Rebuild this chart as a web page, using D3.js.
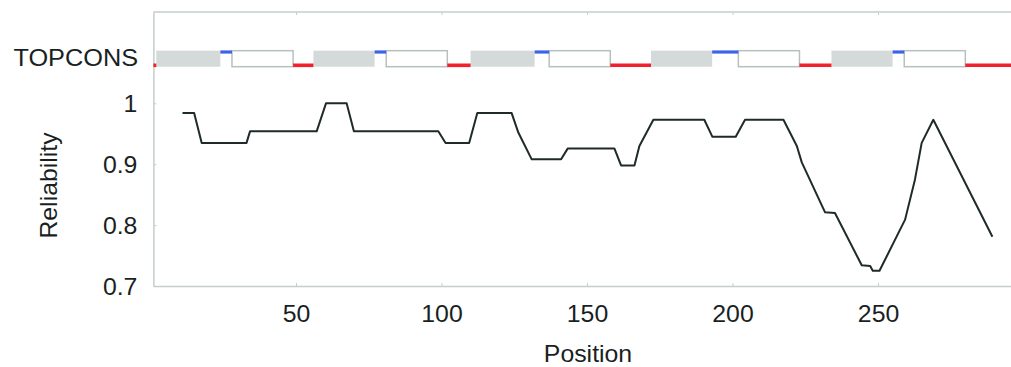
<!DOCTYPE html>
<html>
<head>
<meta charset="utf-8">
<script src="https://cdn.jsdelivr.net/npm/d3@7"></script>
<style>
  body { margin: 0; background: #fff; }
  text { font-family: "Liberation Sans", Arial, sans-serif; fill: #1a1f1f; }
</style>
</head>
<body>
<svg id="chart" width="1011" height="367"></svg>
<script>
// reliability curve (vertices)
const positions = [11, 15, 17.6, 33, 34.2, 57.1, 60.3, 67.4, 69.9, 98.9, 101.4, 109.5, 112.3,
    124.1, 126.4, 131, 141.1, 143.4, 159.4, 161.7, 166.3, 168, 172.8, 190.3, 193.1, 201.1, 204.3,
    217.5, 222.1, 223.8, 231.8, 235.2, 244.4, 247.3, 248.2, 250.5, 259.3, 262.7, 265, 269, 289.3];
const reliability = [0.984, 0.984, 0.935, 0.935, 0.954, 0.954, 1.0, 1.0, 0.954, 0.954, 0.935, 0.935, 0.984,
    0.984, 0.952, 0.908, 0.908, 0.926, 0.926, 0.898, 0.898, 0.93, 0.973, 0.973, 0.945, 0.945, 0.973,
    0.973, 0.93, 0.903, 0.821, 0.82, 0.734, 0.733, 0.725, 0.725, 0.809, 0.875, 0.935, 0.973, 0.781];

// TOPCONS topology: i = inside, o = outside, Mg / Mw = membrane (grey / white box)
const segStart = [1, 2, 24, 28, 49, 56, 77, 81, 102, 110, 132, 137, 158, 172, 193, 202, 223, 234, 255, 259, 280];
const segEnd   = [2, 24, 28, 49, 56, 77, 81, 102, 110, 132, 137, 158, 172, 193, 202, 223, 234, 255, 259, 280, 296];
const segType  = ['i', 'Mg', 'o', 'Mw', 'i', 'Mg', 'o', 'Mw', 'i', 'Mg', 'o', 'Mw', 'i', 'Mg', 'o', 'Mw', 'i', 'Mg', 'o', 'Mw', 'i'];

const xTicks = [50, 100, 150, 200, 250];
const yTicks = [0.7, 0.8, 0.9, 1];

const svg = d3.select('#chart');
const axisColor = '#c5cdcd';
const sx = 1.08; // text in the source is slightly wide

const xscale = d3.scaleLinear().domain([1, 296]).range([153.4, 1011.9]);
const yscale = d3.scaleLinear().domain([0.7, 1.15]).range([286, 12]);

const plotLeft = xscale(1), plotRight = xscale(296), plotTop = yscale(1.15), plotBottom = yscale(0.7);

// frame line on top
svg.append('line').attr('x1', plotLeft).attr('x2', plotRight).attr('y1', plotTop).attr('y2', plotTop)
    .attr('stroke', axisColor).attr('stroke-width', 1.5);

const xaxis = d3.axisBottom(xscale).tickValues(xTicks).tickSize(-3).tickSizeOuter(0).tickFormat(d3.format('d'));
const xg = svg.append('g').attr('transform', `translate(0, ${plotBottom})`).call(xaxis);
xg.select('.domain').attr('stroke', axisColor).attr('stroke-width', 1.5);
xg.selectAll('.tick line').attr('stroke', axisColor);
xg.selectAll('.tick text')
    .attr('y', null).attr('dy', null)
    .attr('transform', `translate(0, 35.7) scale(${sx}, 1)`)
    .style('font-size', '23px').style('fill', '#1a1f1f');

const topaxis = d3.axisTop(xscale).tickValues(xTicks).tickSize(-3).tickSizeOuter(0).tickFormat('');
const tg = svg.append('g').attr('transform', `translate(0, ${plotTop})`).call(topaxis);
tg.select('.domain').remove();
tg.selectAll('.tick line').attr('stroke', axisColor);

const yaxis = d3.axisLeft(yscale).tickValues(yTicks).tickSize(-3).tickSizeOuter(0).tickFormat(d => d === 1 ? '1' : d3.format('.1f')(d));
const yg = svg.append('g').attr('transform', `translate(${plotLeft}, 0)`).call(yaxis);
yg.select('.domain').attr('stroke', axisColor).attr('stroke-width', 1.5);
yg.selectAll('.tick line').attr('stroke', axisColor);
yg.selectAll('.tick text')
    .attr('x', null).attr('dy', '0.36em')
    .attr('transform', `translate(-16, 0) scale(${sx}, 1)`)
    .style('font-size', '23px').style('fill', '#1a1f1f');

// axis titles
svg.append('text')
    .attr('transform', `translate(588, 361.7) scale(${sx}, 1)`)
    .attr('text-anchor', 'middle')
    .style('font-size', '23px')
    .text('Position');

svg.append('text')
    .attr('transform', `translate(57, 185.5) rotate(-90) scale(${sx}, 1)`)
    .attr('text-anchor', 'middle')
    .style('font-size', '23px')
    .text('Reliability');

svg.append('text')
    .attr('transform', `translate(138, 66) scale(1.1, 1)`)
    .attr('text-anchor', 'end')
    .style('font-size', '23px')
    .text('TOPCONS');

// TOPCONS track
const trackTop = 50.7, trackBot = 66.7;
const segs = segStart.map((s, i) => ({ s: s, e: segEnd[i], t: segType[i] }));
const track = svg.append('g');

track.selectAll('rect.mg')
    .data(segs.filter(d => d.t === 'Mg'))
    .enter().append('rect')
    .attr('x', d => xscale(d.s)).attr('y', trackTop)
    .attr('width', d => xscale(d.e) - xscale(d.s)).attr('height', trackBot - trackTop)
    .attr('fill', '#d4d9d9');

track.selectAll('rect.mw')
    .data(segs.filter(d => d.t === 'Mw'))
    .enter().append('rect')
    .attr('x', d => xscale(d.s)).attr('y', trackTop)
    .attr('width', d => xscale(d.e) - xscale(d.s)).attr('height', trackBot - trackTop)
    .attr('fill', '#fff').attr('stroke', '#b7c0c0').attr('stroke-width', 1.5);

track.selectAll('line.io')
    .data(segs.filter(d => d.t === 'i' || d.t === 'o'))
    .enter().append('line')
    .attr('x1', d => xscale(d.s)).attr('x2', d => xscale(d.e))
    .attr('y1', d => d.t === 'i' ? 65.3 : 52).attr('y2', d => d.t === 'i' ? 65.3 : 52)
    .attr('stroke', d => d.t === 'i' ? '#f2202c' : '#3d63e6')
    .attr('stroke-width', d => d.t === 'i' ? 3.6 : 3.2);

// reliability line
const pts = positions.map((p, i) => ({ x: p, y: reliability[i] }));
const line = d3.line().x(d => xscale(d.x)).y(d => yscale(d.y));
svg.append('path')
    .attr('d', line(pts))
    .attr('fill', 'none')
    .attr('stroke', '#1f2a2a')
    .attr('stroke-width', 2)
    .attr('stroke-linejoin', 'round');
</script>
</body>
</html>
